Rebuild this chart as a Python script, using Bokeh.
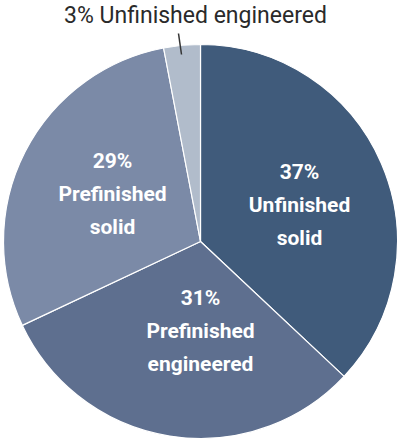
import numpy as np
from bokeh.plotting import figure
from bokeh.models import Range1d, ColumnDataSource
from bokeh.core.properties import value
from bokeh.embed import file_html
from bokeh.resources import INLINE

categories = ["Unfinished solid", "Prefinished engineered", "Prefinished solid", "Unfinished engineered"]
shares = [37, 31, 29, 3]
colors = ["#405b7b", "#5e6f8f", "#7b8aa7", "#b1bccb"]
label_lines = [["37%", "Unfinished", "solid"],
               ["31%", "Prefinished", "engineered"],
               ["29%", "Prefinished", "solid"]]
label_pos = [(299, 171), (200, 297), (112, 160)]
top_label = "3% Unfinished engineered"

W, H = 400, 442
cx, cy, r = 200, H - 241, 197

p = figure(width=W, height=H, output_backend="svg", toolbar_location=None,
           x_range=Range1d(0, W), y_range=Range1d(0, H), min_border=0)
p.axis.visible = False
p.grid.visible = False
p.outline_line_color = None
p.background_fill_color = "white"

total = float(sum(shares))
frac = np.array(shares) / total
cum = np.concatenate([[0], np.cumsum(frac)])
start = np.pi / 2 - cum[:-1] * 2 * np.pi
end = np.pi / 2 - cum[1:] * 2 * np.pi
src = ColumnDataSource(dict(start=start, end=end, color=colors, cat=categories))
p.wedge(x=cx, y=cy, radius=r, start_angle="start", end_angle="end", direction="clock",
        fill_color="color", line_color="white", line_width=1.2, source=src)

xs, ys, ts = [], [], []
spacing = 33
for lines, (lx, ly) in zip(label_lines, label_pos):
    for i, t in enumerate(lines):
        xs.append(lx)
        ys.append(H - (ly + i * spacing))
        ts.append(t)
p.text(x=xs, y=ys, text=ts, text_color="white", text_font=value("Roboto"),
       text_font_size="21px", text_font_style="bold", text_align="center", text_baseline="middle")

p.text(x=[195], y=[H - 15], text=[top_label], text_color="#2a2a2a", text_font=value("Roboto"),
       text_font_size="23px", text_align="center", text_baseline="middle")
p.segment(x0=[178], y0=[H - 33], x1=[181], y1=[H - 54], line_color="#333333", line_width=1.5)

open("out.html", "w").write(file_html(p, INLINE))
